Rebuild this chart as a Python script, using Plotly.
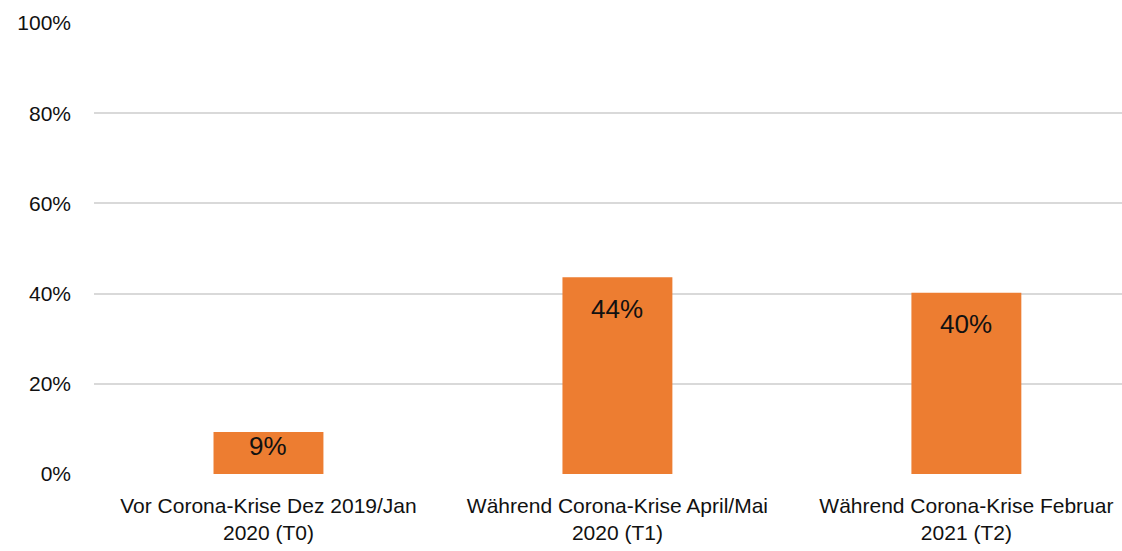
import plotly.graph_objects as go

categories = [
    "Vor Corona-Krise Dez 2019/Jan<br>2020 (T0)",
    "Während Corona-Krise April/Mai<br>2020 (T1)",
    "Während Corona-Krise Februar<br>2021 (T2)",
]
values = [9.3, 43.6, 40.2]
labels = ["9%", "44%", "40%"]
tick_vals = [0, 20, 40, 60, 80, 100]
tick_text = ["0%", "20%", "40%", "60%", "80%", "100%"]

FONT = "Liberation Sans Narrow, Arial Narrow, Liberation Sans, Arial, sans-serif"

fig = go.Figure()
fig.add_trace(go.Bar(
    x=categories, y=values,
    marker=dict(color="#ED7D31", line=dict(width=0)),
    width=0.315,
    hoverinfo="skip",
))

for c, v, t in zip(categories, values, labels):
    fig.add_annotation(
        x=c, y=v - min(7, v / 3), text=t, showarrow=False,
        xref="x", yref="y", yanchor="middle",
        font=dict(family=FONT, size=26, color="#111111"),
    )

fig.update_layout(
    width=1122, height=551,
    margin=dict(l=94, r=0, t=23, b=77),
    paper_bgcolor="white", plot_bgcolor="white",
    showlegend=False,
    font=dict(family=FONT, size=21, color="#111111"),
    xaxis=dict(
        range=[-0.5, 2.446],
        showgrid=False, zeroline=False, showline=False,
        ticks="", tickangle=0, automargin=False,
        tickfont=dict(family=FONT, size=21, color="#111111"),
        ticklabelstandoff=17,
    ),
    yaxis=dict(
        range=[0, 100], automargin=False,
        tickvals=tick_vals, ticktext=tick_text,
        showgrid=True, gridcolor="#D9D9D9", gridwidth=2,
        zeroline=False, showline=False, ticks="",
        tickfont=dict(family=FONT, size=21, color="#111111"),
        ticklabelstandoff=22,
    ),
)

fig.write_html(
    "out.html",
    config={"displayModeBar": False},
    post_script="document.body.style.margin='0';document.body.style.overflow='hidden';",
)
